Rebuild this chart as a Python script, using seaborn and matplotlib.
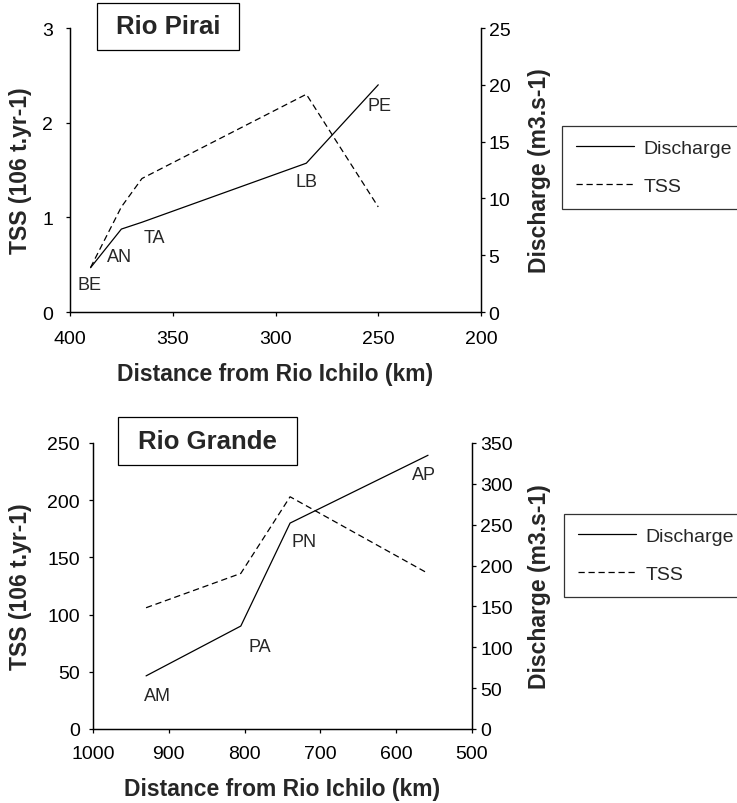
import matplotlib
matplotlib.use('Agg')
import matplotlib.pyplot as plt
import seaborn as sns
import pandas as pd
from matplotlib.lines import Line2D

sns.set_style('white')
plt.rcParams['font.family'] = ['Liberation Sans', 'DejaVu Sans']

# Rio Pirai
pirai_sites = ['BE', 'AN', 'TA', 'LB', 'PE']
pirai_km = [390, 375, 365, 285, 250]
pirai_tss = [0.47, 1.11, 1.41, 2.30, 1.11]
pirai_q = [3.9, 7.3, 7.9, 13.1, 20.0]

# Rio Grande
grande_sites = ['AM', 'PA', 'PN', 'AP']
grande_km = [930, 805, 740, 558]
grande_tss = [106, 136, 203, 136]
grande_q = [65, 126, 252, 335]

# label offsets (points) relative to the discharge point
pirai_off = [(-1, -12), (-1, -20), (9, -11), (0, -13), (1, -15)]
grande_off = [(8, -14), (14, -15), (10, -13.5), (-3, -14)]

W, H = 737, 804
fig = plt.figure(figsize=(W / 100, H / 100), dpi=100)
DASH = (0, (5, 3))


def panel(rect, km, tss, q, sites, offs, xlim, xticks, tss_lim, tss_ticks,
          q_lim, q_ticks, title, title_box, leg_xy, pads, lab_xy):
    ax = fig.add_axes(rect)
    ax2 = ax.twinx()
    df = pd.DataFrame({'km': km, 'tss': tss, 'q': q})
    sns.lineplot(data=df, x='km', y='tss', ax=ax, color='black', lw=0.9,
                 linestyle=DASH, sort=False)
    sns.lineplot(data=df, x='km', y='q', ax=ax2, color='black', lw=0.9,
                 sort=False)
    for a in (ax, ax2):
        a.set_xlim(*xlim)
        a.spines['top'].set_visible(False)
        for s in a.spines.values():
            s.set_color('black')
            s.set_linewidth(0.9)
    ax.set_ylim(*tss_lim)
    ax.set_yticks(tss_ticks)
    ax2.set_ylim(*q_lim)
    ax2.set_yticks(q_ticks)
    ax.set_xticks(xticks)
    ax.tick_params(axis='x', direction='out', length=3, width=0.9,
                   labelsize=14, colors='black', pad=pads[0], bottom=True)
    ax.tick_params(axis='y', direction='out', length=3, width=0.9,
                   labelsize=14, colors='black', pad=pads[1], left=True)
    ax2.tick_params(direction='out', length=3, width=0.9, labelsize=14,
                    colors='black', pad=pads[2], right=True)
    ax.set_xlabel('Distance from Rio Ichilo (km)', fontsize=16.5,
                  fontweight='bold')
    ax.set_ylabel('TSS (106 t.yr-1)', fontsize=16.5, fontweight='bold')
    ax2.set_ylabel('Discharge (m3.s-1)', fontsize=16.5, fontweight='bold')
    ax.xaxis.set_label_coords(0.5, lab_xy[0])
    ax.yaxis.set_label_coords(lab_xy[1], 0.5)
    ax2.yaxis.set_label_coords(lab_xy[2], 0.5)
    for s, x, y, (dx, dy) in zip(sites, km, q, offs):
        ax2.annotate(s, (x, y), xytext=(dx, dy), textcoords='offset points',
                     ha='center', va='center', fontsize=13)
    bx0, by0, bx1, by1 = title_box
    fig.text((bx0 + bx1) / 2 / W, 1 - (by0 + by1) / 2 / H, title,
             ha='center', va='center', fontsize=18.5, fontweight='bold')
    fig.patches.append(plt.Rectangle((bx0 / W, 1 - by1 / H),
                                     (bx1 - bx0) / W, (by1 - by0) / H,
                                     transform=fig.transFigure, fill=False,
                                     edgecolor='black', lw=0.9))
    handles = [Line2D([], [], color='black', lw=0.9),
               Line2D([], [], color='black', lw=0.9, linestyle=DASH)]
    leg = fig.legend(handles, ['Discharge', 'TSS'], loc='upper left',
                     bbox_to_anchor=(leg_xy[0] / W, 1 - leg_xy[1] / H),
                     fontsize=14, frameon=True, fancybox=False,
                     handlelength=3.0, borderpad=0.7, labelspacing=1.05,
                     handletextpad=0.5, borderaxespad=0)
    leg.get_frame().set_edgecolor('black')
    leg.get_frame().set_linewidth(0.9)
    return ax


panel([70 / W, 1 - 313 / H, 411 / W, 284 / H], pirai_km, pirai_tss, pirai_q,
      pirai_sites, pirai_off, (400, 200), [400, 350, 300, 250, 200],
      (0, 3), [0, 1, 2, 3], (0, 25), [0, 5, 10, 15, 20, 25],
      'Rio Pirai', (97, 4, 239, 51), (562, 127), (10, 9, 2.5),
      (-0.176, -0.0925, 1.114))

panel([93 / W, 1 - 730 / H, 379 / W, 286 / H], grande_km, grande_tss,
      grande_q, grande_sites, grande_off, (1000, 500),
      [1000, 900, 800, 700, 600, 500], (0, 250), [0, 50, 100, 150, 200, 250],
      (0, 350), [0, 50, 100, 150, 200, 250, 300, 350],
      'Rio Grande', (118, 418, 297, 466), (564, 515), (8.5, 6.5, 3),
      (-0.168, -0.160, 1.149))

fig.savefig('out.png', dpi=100)
